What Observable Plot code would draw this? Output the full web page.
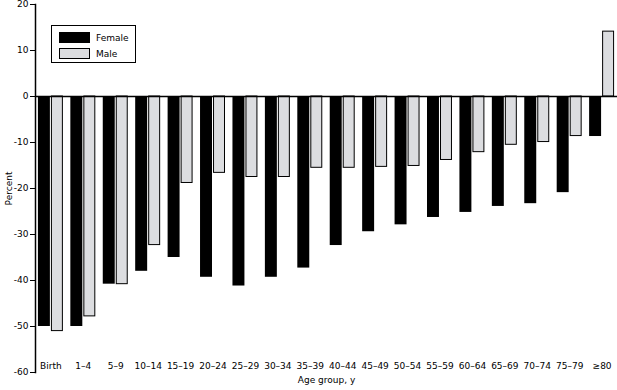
<!DOCTYPE html>
<html>
<head>
<meta charset="utf-8">
<script src="https://cdn.jsdelivr.net/npm/d3@7"></script>
<script src="https://cdn.jsdelivr.net/npm/@observablehq/plot@0.6"></script>
<style>
  body { margin: 0; background: #fff; }
  #wrap { position: relative; width: 617px; height: 390px; font-family: "DejaVu Sans", Verdana, sans-serif; }
  .legend { position: absolute; left: 51px; top: 25px; width: 83px; height: 36px; border: 1px solid #000; background: #fff; font-size: 9px; }
  .legend .row { position: absolute; left: 7px; display: flex; align-items: center; }
  .legend .sw { width: 31px; height: 11px; box-sizing: border-box; border: 1px solid #000; margin-right: 6px; }
</style>
</head>
<body>
<div id="wrap">
  <div id="chart"></div>
  <div class="legend">
    <div class="row" style="top:6px"><div class="sw" style="background:#000"></div><span>Female</span></div>
    <div class="row" style="top:22px"><div class="sw" style="background:#dcdde0"></div><span>Male</span></div>
  </div>
</div>
<script>
const ageGroups = ["Birth","1–4","5–9","10–14","15–19","20–24","25–29","30–34","35–39","40–44","45–49","50–54","55–59","60–64","65–69","70–74","75–79","≥80"];
const female = [-50.0,-50.0,-40.8,-38.0,-35.0,-39.3,-41.2,-39.3,-37.3,-32.4,-29.4,-27.9,-26.3,-25.2,-23.9,-23.3,-20.9,-8.7];
const male   = [-51.0,-47.8,-40.8,-32.3,-18.8,-16.6,-17.5,-17.5,-15.5,-15.5,-15.3,-15.1,-13.8,-12.1,-10.5,-9.9,-8.6,14.1];
const yTicks = [-60,-50,-40,-30,-20,-10,0,10,20];

const rows = ageGroups.map((a, i) => ({age: a, female: female[i], male: male[i]}));

const chart = Plot.plot({
  width: 617,
  height: 390,
  marginTop: 4,
  marginBottom: 18,
  marginLeft: 35,
  marginRight: 0,
  style: {fontFamily: "DejaVu Sans, Verdana, sans-serif", fontSize: "9px", color: "#000", background: "#fff"},
  x: {domain: ageGroups, paddingInner: 0.23, paddingOuter: 0.09, round: false, axis: null},
  y: {domain: [-60, 20], ticks: yTicks, axis: null},
  marks: [
    Plot.barY(rows, {x: "age", y: "female", fill: "#000", insetRight: 13}),
    Plot.barY(rows, {x: "age", y: "male", fill: "#dcdde0", stroke: "#000", strokeWidth: 1, insetLeft: 13.5, insetRight: 0.5}),
    Plot.ruleY([0], {stroke: "#000", strokeWidth: 1.5}),
    Plot.frame({anchor: "left", stroke: "#000", strokeWidth: 1.5}),
    Plot.axisY({ticks: yTicks, tickSize: 5, tickPadding: 2, tickFormat: d => String(d),
      label: "Percent", labelAnchor: "center", labelArrow: "none", labelOffset: 30}),
    Plot.text(ageGroups, {x: d => d, text: d => d, frameAnchor: "bottom", dy: -4, fill: "#000"}),
    Plot.text(["Age group, y"], {frameAnchor: "bottom", dy: 10, fill: "#000"})
  ]
});
document.getElementById("chart").appendChild(chart);
</script>
</body>
</html>
